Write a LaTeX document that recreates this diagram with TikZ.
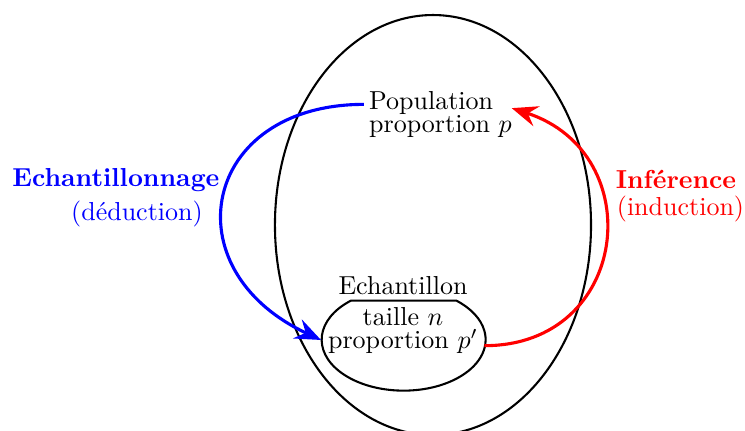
\documentclass[tikz,border=0pt]{standalone}
\usepackage{tikz}
\usetikzlibrary{shapes.geometric,arrows.meta,positioning}
\begin{document}
\begin{tikzpicture}[thick,
  txt node/.style={inner sep=0pt,outer sep=0pt},
  ech node/.style={ellipse,inner xsep=-8pt,inner ysep=0pt,outer sep=0pt,minimum width=2.216cm,minimum height=1.378cm,text depth=9.3pt,align=center},
  fleche/.style={very thick,-{Stealth[length=10pt,width=8pt,inset=3.5pt]}}]
\useasboundingbox (-5.852,-2.771) rectangle (4.217,3.041);
\draw (0,0) ellipse [x radius=2.136, y radius=2.838];%population
\begin{scope}[every node/.style={txt node}]
\node (pop) at (0.101,1.495) [align=left] {Population\\[-3pt]proportion $p$};
\node[ech node] (ech) at (-0.405,-1.554) {taille $n$\\[-3pt]proportion $p'$};
\node (echlab) at (-0.405,-0.824) {Echantillon};
\node[blue] (samp) at (-4.285,0.606) {\textbf{Echantillonnage}};
\node[blue] (ded) at (-4.001,0.155) {(déduction)};
\node[red] (inf) at (3.284,0.622) {\textbf{Inférence}};
\node[red] (ind) at (3.345,0.223) {(induction)};
\end{scope}
%echantillon (ellipse coupee en haut)
\draw (ech.143.6) arc[start angle=130.1, end angle=409.9, x radius=1.108cm, y radius=0.689cm] -- cycle;
\begin{scope}[every path/.style={fleche}]
\draw[blue, shorten <=2pt] (pop.172) to[out=180, in=155, looseness=1.78] (ech.west);
\draw[red] (ech.-4) to[out=0, in=-18, looseness=1.56] (pop.5);
\end{scope}
\end{tikzpicture}
\end{document}
